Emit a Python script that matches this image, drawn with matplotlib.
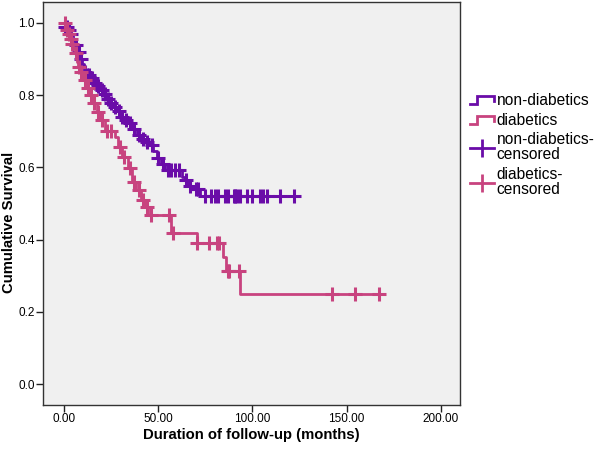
import numpy as np
import matplotlib
matplotlib.use("Agg")
import matplotlib.pyplot as plt
from matplotlib.lines import Line2D
from matplotlib.legend_handler import HandlerBase

plt.rcParams['font.family'] = ['Liberation Sans', 'DejaVu Sans']

# Kaplan-Meier steps (months, survival after event)
nd_event_t = [0.5, 2, 3.5, 5, 6, 7, 8.5, 9.5, 10.5, 12, 14, 15.5, 17.5, 19, 21, 22.5,
              24.5, 26, 28, 29.7, 31.5, 34, 36, 38.6, 41, 43, 45.6, 47.5, 49.2, 51.5,
              53.6, 62.6, 64.2, 66, 68.6, 72.2]
nd_event_s = [0.99, 0.98, 0.97, 0.953, 0.94, 0.92, 0.9, 0.885, 0.865, 0.857, 0.847, 0.835,
              0.825, 0.814, 0.802, 0.79, 0.778, 0.767, 0.755, 0.74, 0.73, 0.722, 0.705,
              0.69, 0.68, 0.67, 0.662, 0.645, 0.625, 0.61, 0.593, 0.573, 0.565, 0.548,
              0.54, 0.52]
nd_censor_t = [0.5, 1.5, 2.5, 4, 6.5, 8, 9, 11, 12.5, 13.5, 15, 16.5, 18, 20, 22, 23.5,
               25, 27, 29, 31, 33, 35, 37, 40, 42, 44, 46.5, 50, 52.5, 55, 57, 59, 61,
               65, 67, 70, 71, 74.8, 78, 80.1, 81.9, 85.4, 87.2, 90, 90.8, 92, 93.4, 97,
               99.6, 104, 105.8, 107.6, 114.6, 122]

d_event_t = [1, 2, 3.2, 4, 5, 5.8, 7, 7.6, 8.5, 10.2, 12, 13.8, 15.5, 17.4, 19.1, 21.8,
             27, 28.8, 30.6, 34.1, 36, 38, 41, 43, 45.6, 57, 70.4, 84.6, 86, 93.4]
d_event_s = [0.98, 0.97, 0.955, 0.943, 0.93, 0.916, 0.893, 0.878, 0.865, 0.842, 0.819,
             0.8, 0.777, 0.754, 0.731, 0.7, 0.685, 0.657, 0.63, 0.597, 0.56, 0.537, 0.51,
             0.49, 0.468, 0.418, 0.39, 0.352, 0.313, 0.25]
d_censor_t = [0.5, 1.5, 2.5, 3.5, 4.5, 6.5, 8, 9, 11, 13, 14.5, 16, 18, 20, 23, 25, 29.5,
              32, 35, 37, 40, 42, 44, 46, 56, 58, 70.4, 77, 81, 82.3, 86.9, 87.6, 93,
              142, 154.5, 167]

x_ticks = [0, 50, 100, 150, 200]
y_ticks = [0.0, 0.2, 0.4, 0.6, 0.8, 1.0]

purple = '#6a0ca8'
pink = '#c8437f'


def km_arrays(ev_t, ev_s, cens_t):
    t = np.array([0] + ev_t + [max(cens_t)])
    s = np.array([1.0] + ev_s + [ev_s[-1]])
    idx = np.searchsorted(t[:-1], np.array(cens_t), side='right') - 1
    return t, s, np.array(cens_t), s[idx]


class StepHandler(HandlerBase):
    def create_artists(self, legend, orig, xd, yd, width, height, fontsize, trans):
        x = [0, width * 0.3, width * 0.3, width, width]
        y = [0.1 * height, 0.1 * height, 0.8 * height, 0.8 * height, 0.35 * height]
        ln = Line2D(np.array(x) - xd, np.array(y) - yd, color=orig.get_color(), lw=2,
                    solid_joinstyle='miter', transform=trans)
        return [ln]


fig = plt.figure(figsize=(6, 4.51), dpi=100)
ax = fig.add_axes([43 / 600, 1 - 404.7 / 451, (459.7 - 43) / 600, (404.7 - 2) / 451])
ax.set_facecolor('#f0f0f0')

for ev_t, ev_s, c_t, col in [(nd_event_t, nd_event_s, nd_censor_t, purple),
                             (d_event_t, d_event_s, d_censor_t, pink)]:
    t, s, ct, cs = km_arrays(ev_t, ev_s, c_t)
    ax.step(t, s, where='post', color=col, lw=2)
    ax.plot(ct, cs, ls='none', marker='+', ms=10, mew=2.2, color=col)

ax.set_xlim(-11.1, 210)
ax.set_ylim(-0.057, 1.058)
ax.set_xticks(x_ticks)
ax.set_xticklabels([f'{v:.2f}' for v in x_ticks], fontsize=8.5)
ax.set_yticks(y_ticks)
ax.set_yticklabels([f'{v:.1f}' for v in y_ticks], fontsize=8.5)
ax.tick_params(direction='out', length=5, width=1, color='#222222', pad=1)
for sp in ax.spines.values():
    sp.set_color('#333333')
    sp.set_linewidth(1)

ax.set_xlabel('Duration of follow-up (months)', fontsize=10.7, fontweight='bold', labelpad=2)
fig.text(9 / 600, 1 - 222 / 451, 'Cumulative Survival', rotation=90, fontsize=10.7,
         fontweight='bold', ha='center', va='center')

h1 = Line2D([], [], color=purple)
h2 = Line2D([], [], color=pink)
h3 = Line2D([], [], color=purple, lw=2, marker='|', ms=13, mew=2)
h4 = Line2D([], [], color=pink, lw=2, marker='|', ms=13, mew=2)
leg = fig.legend([h1, h2, h3, h4],
                 ['non-diabetics', 'diabetics', 'non-diabetics-\ncensored', 'diabetics-\ncensored'],
                 handler_map={h1: StepHandler(), h2: StepHandler()},
                 loc='upper left', bbox_to_anchor=(470 / 600, 1 - 93 / 451), frameon=False,
                 fontsize=11.2, handlelength=1.55, handletextpad=0.15, labelspacing=0.3,
                 borderaxespad=0, borderpad=0)
for txt in leg.get_texts():
    txt.set_linespacing(1.0)

fig.savefig('out.png', dpi=100)
